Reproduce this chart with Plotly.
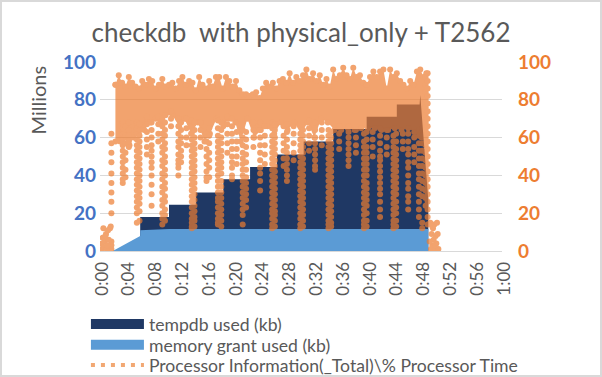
import plotly.graph_objects as go

tick_minutes = list(range(0, 61, 4))
tick_labels = ["0:00","0:04","0:08","0:12","0:16","0:20","0:24","0:28","0:32","0:36","0:40","0:44","0:48","0:52","0:56","1:00"]
y_ticks = [0, 20, 40, 60, 80, 100]

tempdb_minutes = [0, 6.0, 6.0, 10.3, 10.3, 14.3, 14.3, 18.4, 18.4, 22.4, 22.4, 26.4, 26.4, 30.4, 30.4, 34.8, 34.8, 39.8, 39.8, 44.3, 44.3, 47.7, 47.8, 49.0, 49.0]
tempdb_values = [0, 0, 18, 18, 24.5, 24.5, 31, 31, 38, 38, 44.5, 44.5, 51, 51, 58, 58, 64.5, 64.5, 71, 71, 77.5, 77.5, 82.5, 27, 0]

grant_minutes = [1.9, 6.0, 6.0, 10.3, 49.0, 49.0]
grant_values = [0, 8, 11, 11.6, 11.7, 0]

band_top_minutes = [2.3,2.8,3.3,3.8,4.3,4.8,5.3,5.8,6.3,6.8,7.3,7.8,8.3,8.8,9.3,9.8,10.3,10.8,11.3,11.8,12.3,12.8,13.3,13.8,14.3,14.8,15.3,15.8,16.3,16.8,17.3,17.8,18.3,18.8,19.3,19.8,20.3,20.8,21.3,21.8,22.3,22.8,23.3,23.8,24.3,24.8,25.3,25.8,26.3,26.8,27.3,27.8,28.3,28.8,29.3,29.8,30.3,30.8,31.3,31.8,32.3,32.8,33.3,33.8,34.3,34.8,35.3,35.8,36.3,36.8,37.3,37.8,38.3,38.8,39.3,39.8,40.3,40.8,41.3,41.8,42.3,42.8,43.3,43.8,44.3,44.8,45.3,45.8,46.3,46.8,47.3,47.8,48.3,48.7]
band_top_values = [88,93,89,87,92,89,87,86,90,88,91,90,86,88,91,87,88,89,86,90,92,88,90,89,85,92,88,86,90,87,92,92,86,92,90,87,90,85,83,83,82,83,84,81,86,89,87,89,86,90,91,89,94,89,92,90,93,96,91,94,90,93,88,91,87,96,91,93,97,93,91,97,92,93,89,88,92,95,92,95,96,86,96,92,94,90,88,86,90,88,95,96,92,94]

band_bottom_minutes = [2.3,3.0,3.6,4.4,5.0,5.8,6.6,7.5,8.3,9.0,9.8,10.8,11.8,12.6,13.6,14.6,15.6,16.4,17.4,18.4,19.2,20.2,21.0,22.0,23.0,24.0,25.0,26.0,27.0,28.0,29.0,30.0,31.0,32.0,33.0,34.0,35.0,36.0,37.0,38.0,39.0,40.0,41.0,42.0,43.0,44.0,45.0,46.0,47.0,48.0,48.7]
band_bottom_values = [58,58,60,56,60,62,64,68,70,68,72,72,66,70,62,68,58,62,70,66,70,68,58,70,60,64,66,62,68,64,68,62,68,60,70,68,64,64,65,64,65,65,65,64,64,65,64,65,63,60,58]

dip_minutes = [1.7,1.7,3.4,3.8,4.3,5.5,5.9,7.0,7.7,8.7,9.3,9.7,10.6,11.7,12.1,12.9,13.7,14.1,15.0,15.9,16.3,17.6,18.1,19.0,19.7,20.4,21.3,21.8,22.9,23.9,24.6,25.7,26.1,27.4,27.9,28.9,29.9,30.3,31.2,32.1,33.1,34.1,34.5,35.7,37.1,38.2,39.4,39.8,40.7,41.8,42.8,43.8,44.2,45.2,46.0,46.9,47.6,48.1,48.6,48.9]
dip_values = [
 [20,26,31,36,41,47,52,57,62],
 [1,3,5],
 [36,38,41,44,47,50,53,56,59,62,65,68],
 [39,43,48,52,57,61,66],
 [55,58,61,64,68],
 [15,20,23,26,29,32,35,38,41,44,47,50,53,56,59,62,65,68],
 [16,21,25,28,31,34,37,40,43,46,49,52,55,58,61,64,67],
 [51,55,59,63,67,71],
 [24,30,35,40,44,47,50,53,56,60,64,68],
 [58,62,67,71],
 [14,17,20,24,27,31,34,38,41,45,48,52,55,59,62,66,70],
 [16,19,22,26,29,33,36,40,43,47,50,54,57,61,64,68,72],
 [66,70,74],
 [40,44,46,48,51,55,58,62,66,70],
 [47,50,53,57,60,64,68],
 [56,60,65,70],
 [12,13,15,17,20,23,26,29,32,35,38,41,44,47,50,53,56,59,62,66,69],
 [13,16,18,21,24,27,30,33,36,39,42,45,48,51,54,57,60,64,68],
 [55,60,64,68],
 [37,39,42,46,50,54,58,62],
 [39,44,48,52,57,61,65],
 [14,15,17,20,23,26,28,31,34,37,40,43,46,49,52,55,58,61,65,69],
 [13,16,19,22,25,28,31,34,37,41,44,47,50,53,57,60,64,68],
 [52,57,62,67,71],
 [38,40,44,47,50,54,58,62,66,70],
 [46,50,54,58,63],
 [14,19,22,25,28,31,34,37,40,43,46,49,52,56,60,64],
 [23,27,30,33,36,39,43,47,51,55,59,63],
 [55,60,64,68],
 [32,37,41,44,48,52,56,60,64,68],
 [46,51,56,61,66],
 [12,14,17,20,22,25,28,31,34,37,40,43,46,49,52,55,58,61,65,68],
 [13,16,19,21,24,27,30,33,36,39,42,45,48,51,54,57,60,64,67],
 [45,49,53,57,61,66],
 [37,40,43,46,49,52,55,59,63,67],
 [48,52,57,62,66],
 [12,14,17,20,23,26,29,32,35,38,41,44,47,50,53,56,59,62],
 [13,16,19,22,25,28,31,34,37,40,43,46,49,52,55,58,61,64],
 [53,57,61,65,69],
 [43,45,48,51,54,57,60,64,68],
 [56,60,64,68],
 [12,14,16,19,22,25,28,31,34,37,40,43,46,49,52,55,58,61,64],
 [13,15,18,21,24,27,30,33,36,39,42,45,48,51,54,57,60,63],
 [54,58,62,66],
 [45,48,51,54,57,60,63,66],
 [52,56,60,64],
 [12,14,16,19,22,25,28,31,34,37,40,43,46,49,52,55,58,62],
 [13,16,20,24,27,30,33,36,40,43,46,49,52,55,59,63],
 [50,55,59,63],
 [18,22,26,30,33,36,39,42,45,48,50,53,57,61,65],
 [51,55,60,64],
 [12,14,16,19,22,25,28,31,34,37,40,43,46,49,52,55,58,61],
 [13,16,20,23,26,30,33,36,39,42,45,48,51,54,58,62],
 [54,58,62],
 [22,26,29,33,36,40,44,47,51,54,58,62],
 [47,51,55,60,63],
 [18,22,26,30,34,38,41,45,49,53,57,61,64],
 [12,15,29,33,37,41,45,49,53,57,61,65],
 [24,28,32,36,40,44,48,52,56,60,64,68,72,76,80,84,88,92],
 [14,18,22,26,30,34,38,42,46,50,54,58,62,66,70,74,78,82,86,90,94],
]

start_minutes = [0.2,0.3,0.4,0.5,0.6,0.7,0.9,1.0,1.1,1.3,1.5,1.6,0.8,1.2]
start_values = [1,4,7,12,2,5,9,1,3,6,12,13,8,11]
end_minutes = [49.3,49.4,49.5,49.6,49.7,49.8,49.9,50.0,50.1,50.2,50.3,50.4,50.5,49.2,49.6,50.0]
end_values = [15,1,9,3,12,6,14,1,8,4,15,9,1,5,13,3]

grid = "#D9D9D9"
text_grey = "#595959"
orange = "#ED7D31"
navy = "#1F3864"
blue = "#5B9BD5"

x_cpu, y_cpu = [], []
x_cpu += band_top_minutes + band_bottom_minutes[::-1] + [band_top_minutes[0], None]
y_cpu += band_top_values + band_bottom_values[::-1] + [band_top_values[0], None]
for m, vals in zip(dip_minutes, dip_values):
    x_cpu += [m] * len(vals) + [None]
    y_cpu += vals + [None]
for m, v in zip(start_minutes + end_minutes, start_values + end_values):
    x_cpu += [m, None]
    y_cpu += [v, None]

fig = go.Figure()
fig.add_trace(go.Scatter(x=tempdb_minutes, y=tempdb_values, mode="lines", line=dict(width=0, color=navy),
                         fill="tozeroy", fillcolor=navy, showlegend=False, hoverinfo="skip"))
fig.add_trace(go.Scatter(x=grant_minutes, y=grant_values, mode="lines", line=dict(width=0, color=blue),
                         fill="tozeroy", fillcolor=blue, showlegend=False, hoverinfo="skip"))
fig.add_trace(go.Scatter(x=x_cpu, y=y_cpu, mode="markers", marker=dict(size=6, color=orange, line=dict(width=0)),
                         fill="toself", fillcolor=orange, line=dict(width=0), opacity=0.7,
                         showlegend=False, yaxis="y2", hoverinfo="skip"))
fig.add_trace(go.Scatter(x=[None], y=[None], mode="lines", line=dict(width=10, color=navy),
                         name="tempdb used (kb)", legend="legend"))
fig.add_trace(go.Scatter(x=[None], y=[None], mode="lines", line=dict(width=10, color=blue),
                         name="memory grant used (kb)", legend="legend2"))
fig.add_trace(go.Scatter(x=[None], y=[None], mode="lines", line=dict(width=4, color="#F2A873", dash="4px,6px"),
                         name="Processor Information(_Total)\\% Processor Time", legend="legend3"))

def legend_at(row_center):
    return dict(x=-0.035, y=row_center, xanchor="left", yanchor="middle", itemwidth=53, bgcolor="rgba(0,0,0,0)",
                font=dict(size=17.6, color=text_grey))

fig.update_layout(
    width=602, height=377, autosize=False,
    margin=dict(l=100, r=100, t=62, b=126, autoexpand=False),
    paper_bgcolor="white", plot_bgcolor="white",
    font=dict(family="Lato", color=text_grey),
    title=dict(text="checkdb  with physical_only + T2562", x=0.5, xanchor="center", y=0.9125, yanchor="middle",
               font=dict(size=26, color=text_grey, family="Lato")),
    xaxis=dict(range=[0, 60], tickmode="array", tickvals=tick_minutes, ticktext=tick_labels, tickangle=-90,
               tickfont=dict(size=17, color=text_grey), showgrid=False, showline=True, linecolor=grid,
               ticks="", zeroline=False, ticklabelstandoff=3, ticklabelshift=2),
    yaxis=dict(range=[0, 100], tickvals=y_ticks, tickfont=dict(size=19, color="#4472C4", weight=700),
               showgrid=True, gridcolor=grid, gridwidth=1, zeroline=False, ticks="", showline=False, ticklabelstandoff=3),
    yaxis2=dict(range=[0, 100], tickvals=y_ticks, overlaying="y", side="right", ticklabelstandoff=15,
                tickfont=dict(size=19, color=orange, weight=700), showgrid=False, zeroline=False, ticks="", showline=False),
    legend=legend_at(-0.386),
    legend2=legend_at(-0.497),
    legend3=legend_at(-0.603),
    annotations=[dict(text="Millions", xref="paper", yref="paper", x=-0.155, y=0.80, textangle=-90, showarrow=False,
                      font=dict(size=20, color=text_grey), xanchor="center", yanchor="middle")],
    shapes=[dict(type="rect", xref="paper", yref="paper", x0=-0.2463, x1=1.2463, y0=-0.6614, y1=1.3228,
                 line=dict(color=grid, width=2), fillcolor="rgba(0,0,0,0)", layer="below")],
)
fig.write_html("out.html", config={"displayModeBar": False},
               post_script="document.body.style.margin='0';document.body.style.overflow='hidden';")
